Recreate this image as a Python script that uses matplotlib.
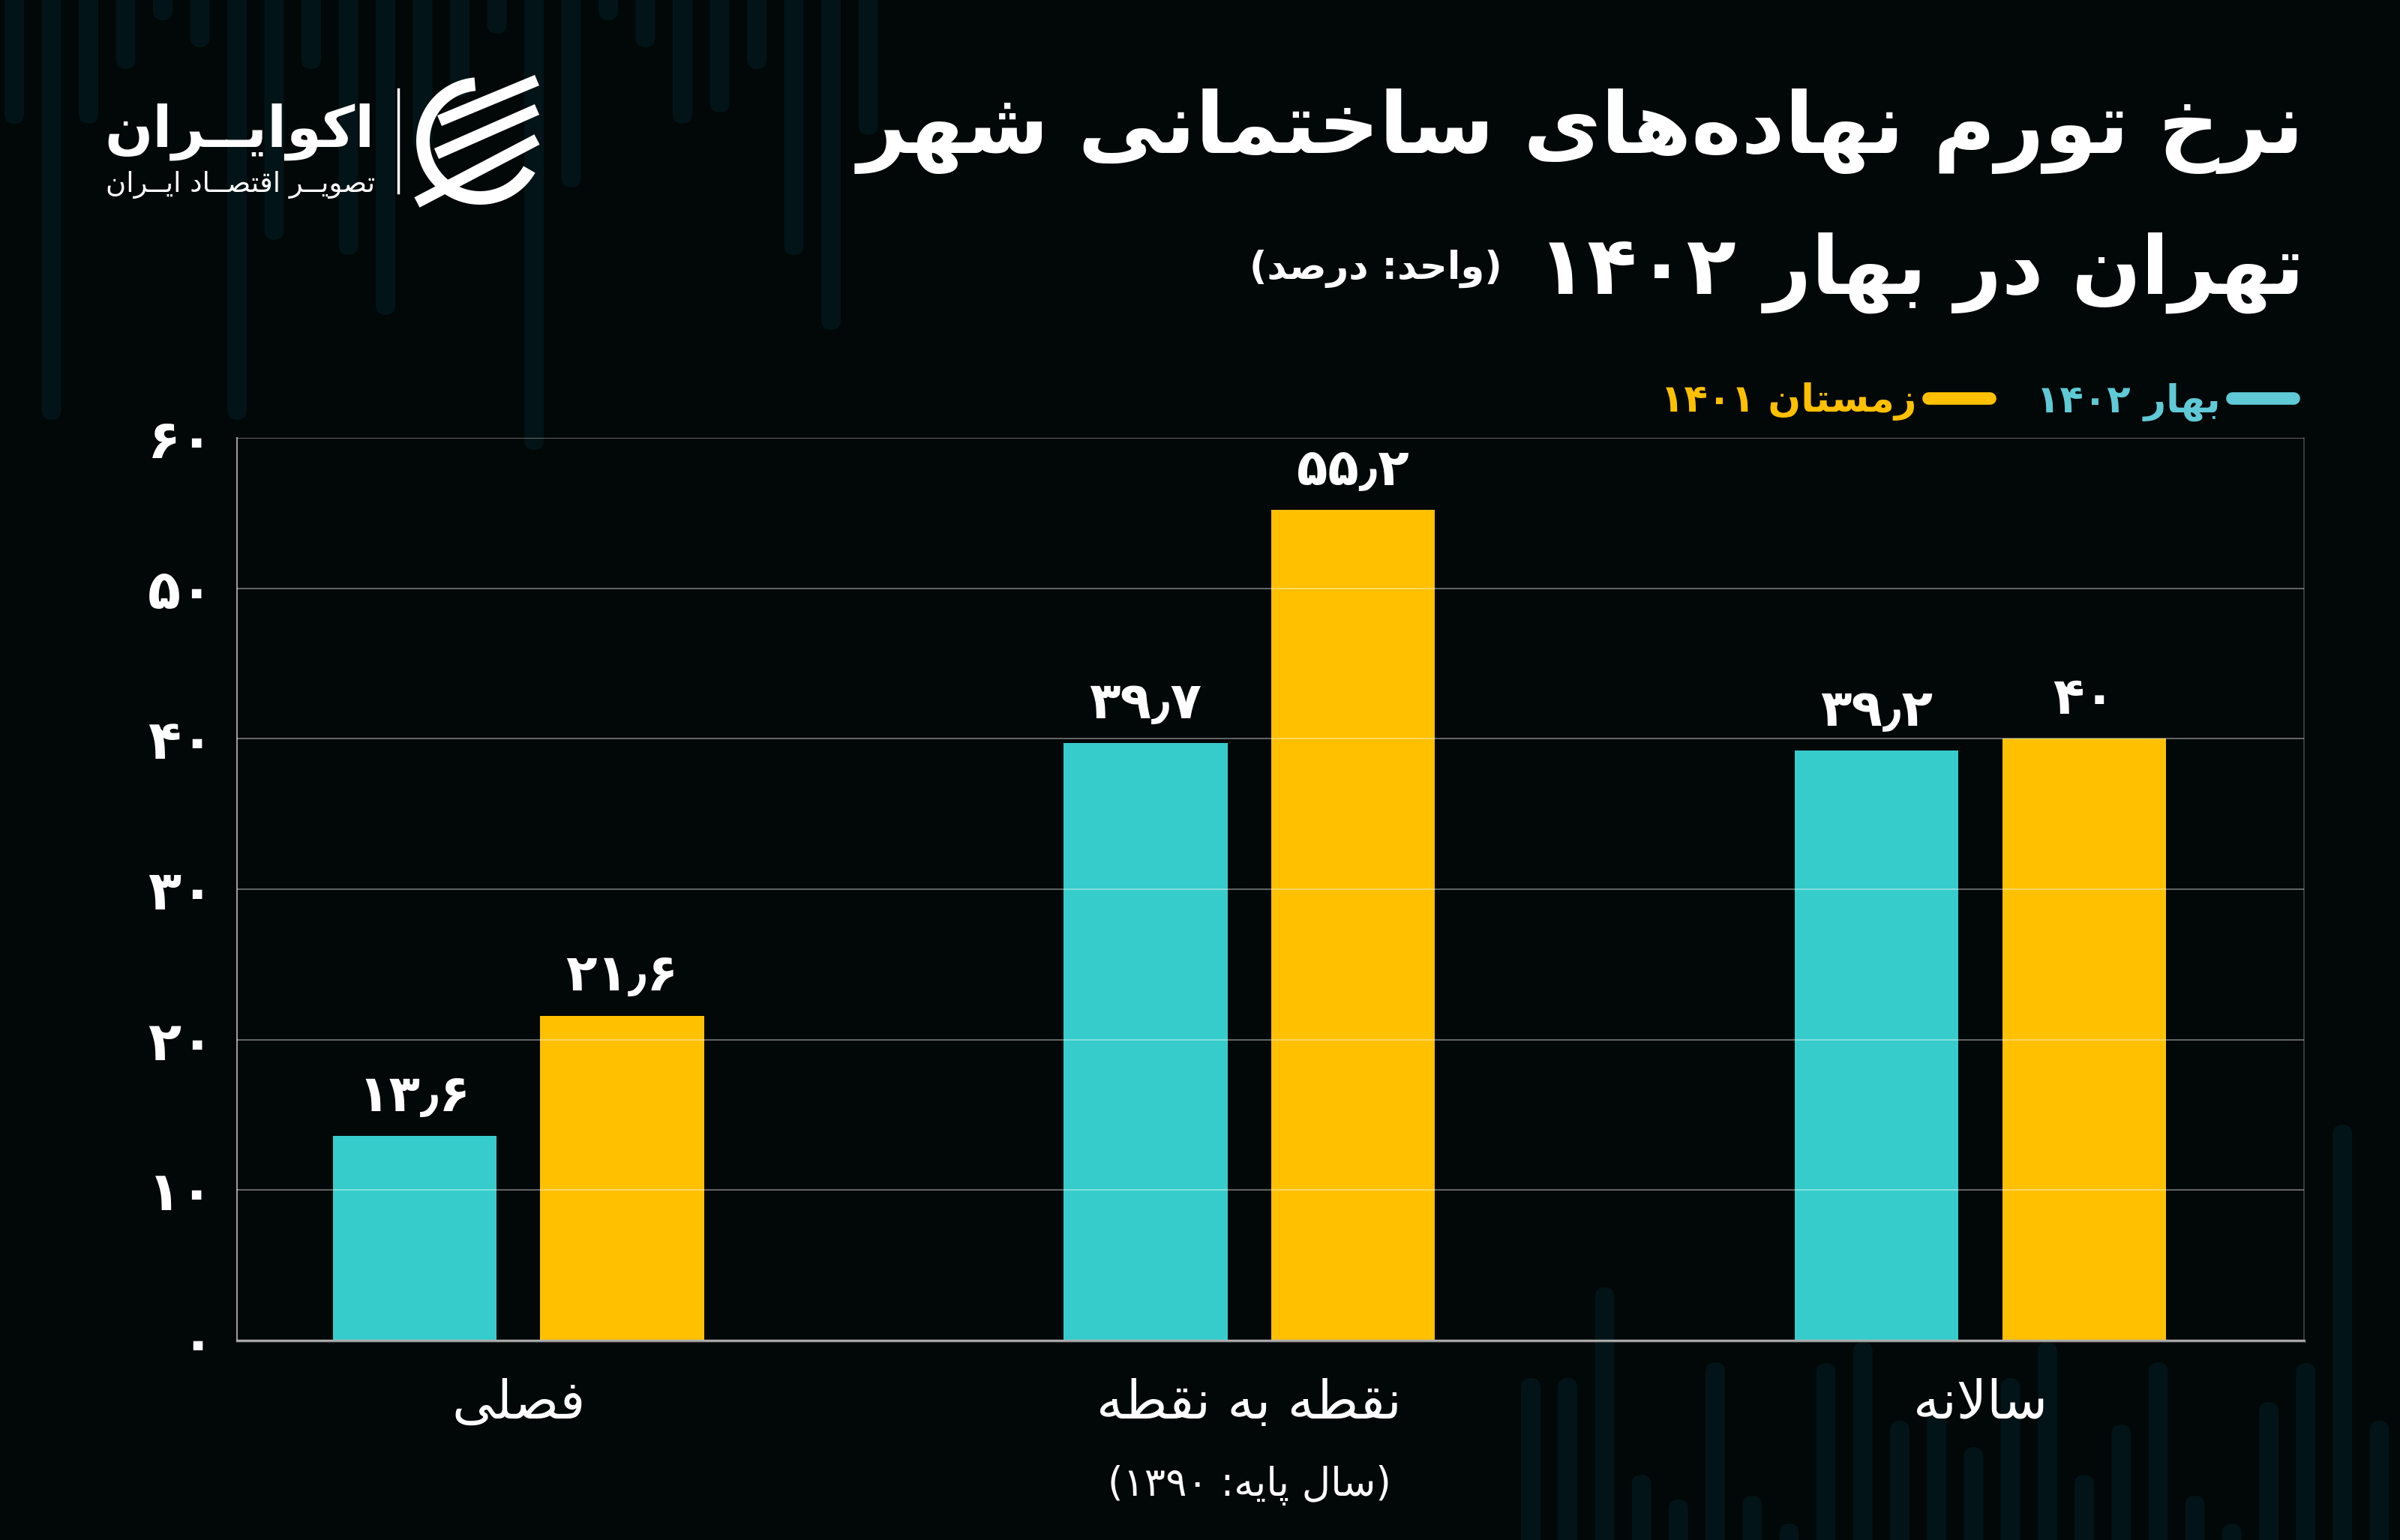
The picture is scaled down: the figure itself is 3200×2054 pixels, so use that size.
import matplotlib
matplotlib.use('Agg')
import matplotlib.pyplot as plt
import matplotlib.transforms as mtransforms
from matplotlib.lines import Line2D
from matplotlib.patches import FancyBboxPatch, Polygon
import numpy as np

# ---- data ----
categories = ['فصلی', 'نقطه به نقطه', 'سالانه']
spring_1402 = [13.6, 39.7, 39.2]
winter_1401 = [21.6, 55.2, 40.0]
series_labels = ['بهار ۱۴۰۲', 'زمستان ۱۴۰۱']
y_ticks = [0, 10, 20, 30, 40, 50, 60]
title_line1 = 'نرخ تورم نهاده\u200cهای ساختمانی شهر'
title_line2 = 'تهران در بهار ۱۴۰۲'
unit_note = '(واحد: درصد)'
base_note = '(سال پایه: ۱۳۹۰)'
brand = 'اکوایــران'
brand_sub = 'تصویــر اقتصــاد ایــران'

CYAN = '#36cccc'
YELLOW = '#ffc000'
BG = '#020707'
DECOR = '#021417'

# ---- minimal persian shaping + visual ordering ----
FORMS = {
    'ا': ('\uFE8D', '\uFE8E', None, None),
    'ب': ('\uFE8F', '\uFE90', '\uFE91', '\uFE92'),
    'پ': ('\uFB56', '\uFB57', '\uFB58', '\uFB59'),
    'ت': ('\uFE95', '\uFE96', '\uFE97', '\uFE98'),
    'ح': ('\uFEA1', '\uFEA2', '\uFEA3', '\uFEA4'),
    'خ': ('\uFEA5', '\uFEA6', '\uFEA7', '\uFEA8'),
    'د': ('\uFEA9', '\uFEAA', None, None),
    'ر': ('\uFEAD', '\uFEAE', None, None),
    'ز': ('\uFEAF', '\uFEB0', None, None),
    'س': ('\uFEB1', '\uFEB2', '\uFEB3', '\uFEB4'),
    'ش': ('\uFEB5', '\uFEB6', '\uFEB7', '\uFEB8'),
    'ص': ('\uFEB9', '\uFEBA', '\uFEBB', '\uFEBC'),
    'ط': ('\uFEC1', '\uFEC2', '\uFEC3', '\uFEC4'),
    'ف': ('\uFED1', '\uFED2', '\uFED3', '\uFED4'),
    'ق': ('\uFED5', '\uFED6', '\uFED7', '\uFED8'),
    'ک': ('\uFB8E', '\uFB8F', '\uFB90', '\uFB91'),
    'ل': ('\uFEDD', '\uFEDE', '\uFEDF', '\uFEE0'),
    'م': ('\uFEE1', '\uFEE2', '\uFEE3', '\uFEE4'),
    'ن': ('\uFEE5', '\uFEE6', '\uFEE7', '\uFEE8'),
    'ه': ('\uFEE9', '\uFEEA', '\uFEEB', '\uFEEC'),
    'و': ('\uFEED', '\uFEEE', None, None),
    'ی': ('\uFBFC', '\uFBFD', '\uFBFE', '\uFBFF'),
    'ـ': ('ـ', 'ـ', 'ـ', 'ـ'),
}
DIGITS = set('۰۱۲۳۴۵۶۷۸۹٫')
MIRROR = {'(': ')', ')': '('}


def dual(c):
    return c in FORMS and FORMS[c][2] is not None


def shape(s):
    out = []
    i = 0
    while i < len(s):
        c = s[i]
        if c not in FORMS:
            out.append(c)
            i += 1
            continue
        join_prev = i > 0 and dual(s[i - 1])
        if c == 'ل' and i + 1 < len(s) and s[i + 1] == 'ا':
            out.append('\uFEFC' if join_prev else '\uFEFB')
            i += 2
            continue
        join_next = dual(c) and i + 1 < len(s) and s[i + 1] in FORMS
        iso, fin, ini, med = FORMS[c]
        if join_prev and join_next:
            out.append(med)
        elif join_prev:
            out.append(fin)
        elif join_next:
            out.append(ini)
        else:
            out.append(iso)
        i += 1
    return ''.join(out).replace('\u200c', '')


def fa(s):
    s = shape(s)
    runs = []
    for ch in s:
        isnum = ch in DIGITS
        if runs and runs[-1][0] == isnum:
            runs[-1][1].append(ch)
        else:
            runs.append([isnum, [ch]])
    parts = []
    for isnum, chars in reversed(runs):
        if isnum:
            parts.append(''.join(chars))
        else:
            parts.append(''.join(MIRROR.get(c, c) for c in reversed(chars)))
    return ''.join(parts)


def fa_num(v):
    s = '{:g}'.format(v)
    return s.translate(str.maketrans('0123456789.', '۰۱۲۳۴۵۶۷۸۹٫'))


plt.rcParams['font.family'] = ['DejaVu Sans']

fig = plt.figure(figsize=(32, 20.54), dpi=100, facecolor=BG)

# background layer in pixel coordinates
bg = fig.add_axes([0, 0, 1, 1], zorder=-5)
bg.set_xlim(0, 3200)
bg.set_ylim(2054, 0)
bg.axis('off')

# decorative faint bars
top_x = np.arange(19, 1190, 49.5)
top_len = [165, 560, 165, 92, 27, 63, 560, 320, 92, 340, 420, 200, 130, 45,
           600, 250, 27, 63, 165, 150, 92, 340, 440, 180]
for x, L in zip(top_x, top_len):
    bg.add_patch(FancyBboxPatch((x - 13, -40), 26, L + 40,
                                boxstyle='round,pad=0,rounding_size=13',
                                fc=DECOR, ec='none'))
bot_x = np.arange(2041, 3200, 49.2)
bot_top = [1838, 1838, 1717, 1967, 2000, 1817, 1995, 2032, 1818, 1790, 1895, 1880,
           1930, 1838, 1790, 1967, 1900, 1817, 1995, 2032, 1870, 1818, 1500, 1895]
for x, t in zip(bot_x, bot_top):
    bg.add_patch(FancyBboxPatch((x - 13, t), 26, 2100 - t,
                                boxstyle='round,pad=0,rounding_size=13',
                                fc=DECOR, ec='none'))

# ---- main chart ----
ax = fig.add_axes([316 / 3200, 1 - 1788 / 2054, (3072 - 316) / 3200, (1788 - 584) / 2054])
ax.set_facecolor('none')
x = np.arange(len(categories))
w = 0.224
off = 0.142
ax.bar(x - off, spring_1402, w, color=CYAN, zorder=2)
ax.bar(x + off, winter_1401, w, color=YELLOW, zorder=2)
ax.set_xlim(-0.385, 2.443)
ax.set_ylim(0, 60)

for xi, v in zip(x - off, spring_1402):
    ax.annotate(fa(fa_num(v)), (xi, v), xytext=(0, 24), textcoords='offset points',
                ha='center', va='baseline', fontsize=49, fontweight='bold', color='white')
for xi, v in zip(x + off, winter_1401):
    ax.annotate(fa(fa_num(v)), (xi, v), xytext=(0, 24), textcoords='offset points',
                ha='center', va='baseline', fontsize=49, fontweight='bold', color='white')

ax.set_yticks(y_ticks)
ax.set_yticklabels([fa(fa_num(t)) for t in y_ticks], fontsize=52, fontweight='bold', color='white')
ax.tick_params(axis='y', length=0, pad=22)
ax.set_xticks(x)
ax.set_xticklabels([fa(c) for c in categories], fontsize=51, color='white')
ax.tick_params(axis='x', length=0, pad=36)

ax.grid(axis='y', color='white', alpha=0.45, linewidth=1.2, zorder=3)
ax.set_axisbelow(False)
ax.spines['top'].set_visible(False)
ax.spines['left'].set_color('#9a9a9a')
ax.spines['left'].set_linewidth(1.5)
ax.spines['right'].set_color('#444444')
ax.spines['right'].set_linewidth(1.2)
ax.spines['bottom'].set_color('#9a9a9a')
ax.spines['bottom'].set_linewidth(2.5)

mix = mtransforms.blended_transform_factory(ax.transData, bg.transData)
ax.text(1, 1981, fa(base_note), transform=mix, ha='center', va='center',
        fontsize=38, color='white')

# legend (right to left)
handles = [Line2D([0], [0], color=YELLOW, lw=12, solid_capstyle='round'),
           Line2D([0], [0], color='#5fcad6', lw=12, solid_capstyle='round')]
leg = ax.legend(handles, [fa(series_labels[1]), fa(series_labels[0])], ncol=2,
                markerfirst=False, loc='center right', bbox_to_anchor=(0.995, 1.04),
                frameon=False, fontsize=37, handlelength=1.6, columnspacing=1.2,
                handletextpad=0.3, borderaxespad=0, borderpad=0)
for txt, col in zip(leg.get_texts(), [YELLOW, '#5fcad6']):
    txt.set_color(col)
    txt.set_fontweight('bold')

# ---- titles ----
renderer = fig.canvas.get_renderer()


def fit(t, target):
    bb = t.get_window_extent(renderer)
    t.set_fontsize(t.get_fontsize() * target / bb.width)


t1 = bg.text(3072, 204, fa(title_line1), ha='right', va='baseline', fontsize=80,
             fontweight='bold', color='white')
fit(t1, 1930)
t2 = bg.text(3072, 392, fa(title_line2), ha='right', va='baseline', fontsize=t1.get_fontsize(),
             fontweight='bold', color='white')
bb2 = t2.get_window_extent(renderer)
t2.set_fontsize(t2.get_fontsize() * 1021 / bb2.width)
l2 = t2.get_window_extent(renderer).x0
bg.text(l2 - 47, 372, fa(unit_note), ha='right', va='baseline', fontsize=37,
        fontweight='bold', color='white')

# ---- logo ----
b1 = bg.text(500, 196, fa(brand), ha='right', va='baseline', fontsize=60,
             fontweight='bold', color='white')
fit(b1, 361)
b2 = bg.text(500, 256, fa(brand_sub), ha='right', va='baseline', fontsize=24, color='white')
fit(b2, 361)
bg.plot([531, 531], [119, 257], color='white', lw=2.5)
cx, cy, r = 640, 188, 76
ang = np.radians(np.linspace(95, 330, 80))
outer = np.column_stack([cx + (r + 9) * np.cos(ang), cy - (r + 9) * np.sin(ang)])
inner = np.column_stack([cx + (r - 9) * np.cos(ang[::-1]), cy - (r - 9) * np.sin(ang[::-1])])
bg.add_patch(Polygon(np.vstack([outer, inner]), closed=True, fc='white', ec='none'))
for (xa, ya), (xb, yb) in [((586, 161), (716, 107)), ((582, 205), (716, 146)), ((556, 270), (716, 186))]:
    bg.plot([xa, xb], [ya, yb], color='white', lw=11, solid_capstyle='butt')

fig.savefig('out.png', dpi=100, facecolor=BG)
